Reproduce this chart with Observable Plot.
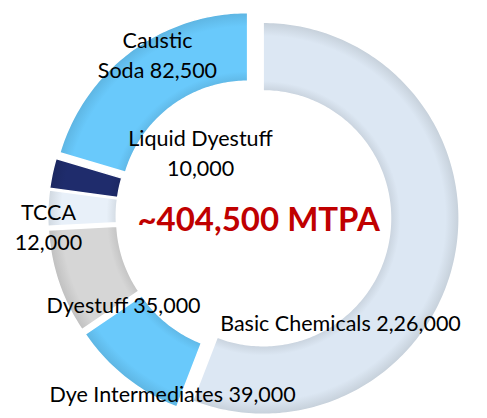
<!DOCTYPE html>
<html><head><meta charset="utf-8">
<script src="https://cdn.jsdelivr.net/npm/d3@7"></script>
<script src="https://cdn.jsdelivr.net/npm/@observablehq/plot@0.6"></script>
<style>body{margin:0;background:#fff;}</style>
</head><body><div id="chart"></div>
<script>
// ---- data ----
const categories = ["Basic Chemicals", "Dye Intermediates", "Dyestuff", "TCCA", "Liquid Dyestuff", "Caustic Soda"];
const values = [226000, 39000, 35000, 12000, 10000, 82500];
const labelTexts = ["Basic Chemicals 2,26,000", "Dye Intermediates 39,000", "Dyestuff 35,000", "TCCA\n12,000", "Liquid Dyestuff\n10,000", "Caustic\nSoda 82,500"];
const totalLabel = "~404,500 MTPA";

// ---- style / layout ----
const colors = ["#dce7f3", "#69c9fb", "#d6d6d6", "#e8f0f9", "#1f2c6c", "#69c9fb"];
const W = 487, H = 418, CX = 253, CY = 216, R = 196;
const innerRatio = 0.65, explode = 0.05;
// label anchor positions in units of outer radius, relative to ring centre
const labelX = [0.444, -0.413, -0.663, -1.046, -0.270, -0.490];
const labelY = [-0.533, -0.898, -0.444, -0.046, 0.334, 0.832];

const arcs = d3.pie().sort(null).value(d => d)(values);
const offsets = arcs.map(p => {
  const mid = (p.startAngle + p.endAngle) / 2;
  return {x: explode * Math.sin(mid), y: explode * Math.cos(mid)};
});
const slices = arcs.map((p, i) => {
  const {x: ox, y: oy} = offsets[i];
  const n = Math.max(2, Math.ceil((p.endAngle - p.startAngle) * 180 / Math.PI));
  const pts = [];
  for (let k = 0; k <= n; k++) {
    const a = p.startAngle + (p.endAngle - p.startAngle) * k / n;
    pts.push({x: ox + Math.sin(a), y: oy + Math.cos(a)});
  }
  for (let k = n; k >= 0; k--) {
    const a = p.startAngle + (p.endAngle - p.startAngle) * k / n;
    pts.push({x: ox + innerRatio * Math.sin(a), y: oy + innerRatio * Math.cos(a)});
  }
  return pts;
});

const labels = categories.map((c, i) => ({text: labelTexts[i], x: labelX[i], y: labelY[i]}));

const chart = Plot.plot({
  width: W, height: H, margin: 0,
  style: {fontFamily: "Lato, sans-serif", background: "white", overflow: "visible"},
  x: {domain: [-CX / R, (W - CX) / R], axis: null},
  y: {domain: [(CY - H) / R, CY / R], axis: null},
  marks: [
    ...slices.map((pts, i) => Plot.line(pts, {x: "x", y: "y", fill: `url(#grad${i})`, stroke: "white", strokeWidth: 1.5, curve: "linear-closed"})),
    Plot.text(labels, {x: "x", y: "y", text: "text", fontSize: 21.5, lineHeight: 1.4, fill: "black", lineAnchor: "middle"}),
    Plot.text([totalLabel], {x: [0.026], y: [-0.02], text: d => d, fontSize: 33, fontWeight: "bold", fill: "#c00000", lineAnchor: "middle"})
  ]
});

// radial shading gradients (bevel-like edges), positioned through the plot's scales
const sx = chart.scale("x"), sy = chart.scale("y");
const rPx = sx.apply(1) - sx.apply(0);
const defs = d3.select(chart).insert("defs", ":first-child");
colors.forEach((c, i) => {
  const g = defs.append("radialGradient").attr("id", `grad${i}`).attr("gradientUnits", "userSpaceOnUse")
    .attr("cx", sx.apply(offsets[i].x)).attr("cy", sy.apply(offsets[i].y)).attr("r", rPx);
  const base = d3.color(c);
  [[innerRatio, base.darker(0.25)], [innerRatio + 0.05, base], [0.93, base], [1, base.darker(0.3)]]
    .forEach(([o, col]) => g.append("stop").attr("offset", o).attr("stop-color", col.formatHex()));
});
document.getElementById("chart").append(chart);
</script>
</body></html>
